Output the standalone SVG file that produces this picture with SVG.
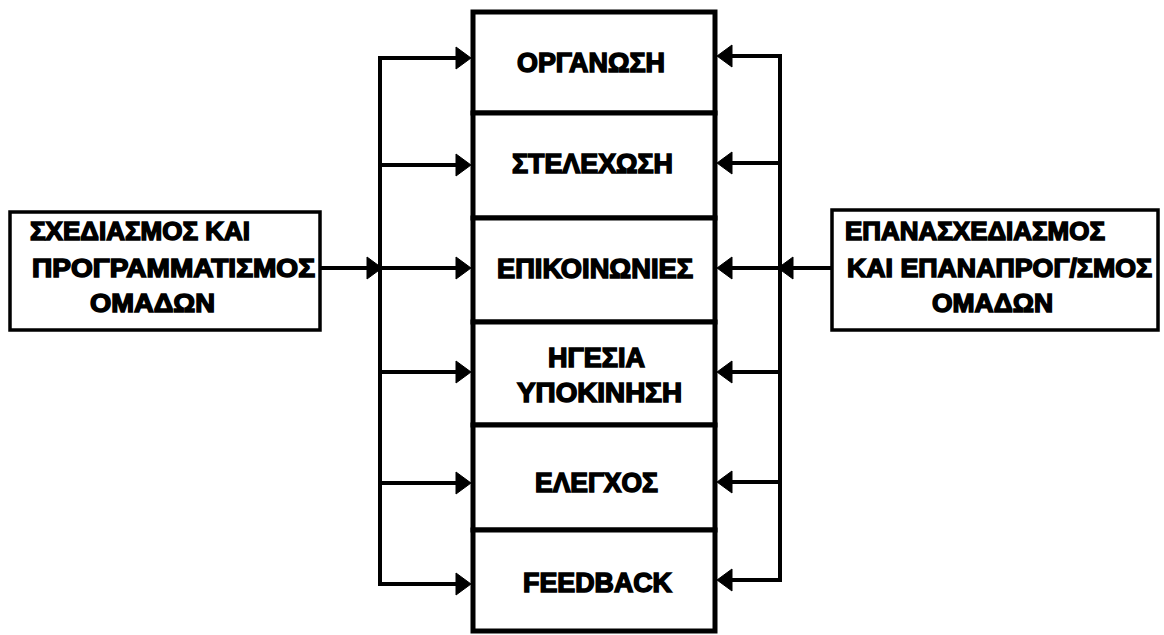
<svg xmlns="http://www.w3.org/2000/svg" xmlns:xlink="http://www.w3.org/1999/xlink" width="1164" height="635" viewBox="0 0 1164 635">
  <style>
    .box { fill: #fff; stroke: #000; stroke-width: 5; }
    .side { fill: #fff; stroke: #000; stroke-width: 3.5; }
    .t { font-family: "Liberation Sans", Arial, sans-serif; font-weight: bold; font-size: 27px; fill: #000; stroke: #000; stroke-width: 1.5; }
    .ts { font-family: "Liberation Sans", Arial, sans-serif; font-weight: bold; font-size: 26px; fill: #000; stroke: #000; stroke-width: 1.5; }
    .c { fill: none; stroke: #000; stroke-width: 4; stroke-linejoin: miter; }
  </style>
  <defs>
    <polygon id="ar" points="0,0 -15,-11 -15,11" fill="#000" stroke="#000" stroke-width="1" stroke-linejoin="round"/>
  </defs>

  <g id="connectors">
    <!-- left bus -->
    <path class="c" d="M466,58 H380 V584 H466"/>
    <path class="c" d="M380,165 H466"/>
    <path class="c" d="M380,268 H466"/>
    <path class="c" d="M380,372 H466"/>
    <path class="c" d="M380,483 H466"/>
    <path class="c" d="M320,268 H374"/>
    <!-- right bus -->
    <path class="c" d="M722,56 H780 V580 H722"/>
    <path class="c" d="M780,163 H722"/>
    <path class="c" d="M780,268 H722"/>
    <path class="c" d="M780,372 H722"/>
    <path class="c" d="M780,482 H722"/>
    <path class="c" d="M832,268 H786"/>
    <!-- arrowheads -->
    <use xlink:href="#ar" href="#ar" transform="translate(471,58)"/>
    <use xlink:href="#ar" href="#ar" transform="translate(471,165)"/>
    <use xlink:href="#ar" href="#ar" transform="translate(471,268)"/>
    <use xlink:href="#ar" href="#ar" transform="translate(471,372)"/>
    <use xlink:href="#ar" href="#ar" transform="translate(471,483)"/>
    <use xlink:href="#ar" href="#ar" transform="translate(471,584)"/>
    <use xlink:href="#ar" href="#ar" transform="translate(382,268)"/>
    <use xlink:href="#ar" href="#ar" transform="translate(717,56) scale(-1,1)"/>
    <use xlink:href="#ar" href="#ar" transform="translate(717,163) scale(-1,1)"/>
    <use xlink:href="#ar" href="#ar" transform="translate(717,268) scale(-1,1)"/>
    <use xlink:href="#ar" href="#ar" transform="translate(717,372) scale(-1,1)"/>
    <use xlink:href="#ar" href="#ar" transform="translate(717,482) scale(-1,1)"/>
    <use xlink:href="#ar" href="#ar" transform="translate(717,580) scale(-1,1)"/>
    <use xlink:href="#ar" href="#ar" transform="translate(778,268) scale(-1,1)"/>
  </g>

  <g id="planning">
    <rect class="side" x="10" y="212" width="310" height="118"/>
    <text class="ts" x="30" y="240" textLength="220" lengthAdjust="spacingAndGlyphs">ΣΧΕΔΙΑΣΜΟΣ ΚΑΙ</text>
    <text class="ts" x="32" y="277" textLength="283" lengthAdjust="spacingAndGlyphs">ΠΡΟΓΡΑΜΜΑΤΙΣΜΟΣ</text>
    <text class="ts" x="90" y="312" textLength="125" lengthAdjust="spacingAndGlyphs">ΟΜΑΔΩΝ</text>
  </g>

  <g id="replanning">
    <rect class="side" x="832" y="210" width="326" height="120"/>
    <text class="ts" x="845" y="240" textLength="260" lengthAdjust="spacingAndGlyphs">ΕΠΑΝΑΣΧΕΔΙΑΣΜΟΣ</text>
    <text class="ts" x="847" y="277" textLength="305" lengthAdjust="spacingAndGlyphs">ΚΑΙ ΕΠΑΝΑΠΡΟΓ/ΣΜΟΣ</text>
    <text class="ts" x="932" y="312" textLength="121" lengthAdjust="spacingAndGlyphs">ΟΜΑΔΩΝ</text>
  </g>

  <g id="organosi">
    <rect class="box" x="473" y="12" width="242" height="101"/>
    <text class="t" x="517" y="72" textLength="148" lengthAdjust="spacingAndGlyphs">ΟΡΓΑΝΩΣΗ</text>
  </g>
  <g id="stelexosi">
    <rect class="box" x="473" y="113" width="242" height="105"/>
    <text class="t" x="512" y="173" textLength="161" lengthAdjust="spacingAndGlyphs">ΣΤΕΛΕΧΩΣΗ</text>
  </g>
  <g id="epikoinonies">
    <rect class="box" x="473" y="218" width="242" height="104"/>
    <text class="t" x="497" y="278" textLength="196" lengthAdjust="spacingAndGlyphs">ΕΠΙΚΟΙΝΩΝΙΕΣ</text>
  </g>
  <g id="igesia">
    <rect class="box" x="473" y="322" width="242" height="103"/>
    <text class="t" x="548" y="367" textLength="97" lengthAdjust="spacingAndGlyphs">ΗΓΕΣΙΑ</text>
    <text class="t" x="517" y="402" textLength="165" lengthAdjust="spacingAndGlyphs">ΥΠΟΚΙΝΗΣΗ</text>
  </g>
  <g id="elegxos">
    <rect class="box" x="473" y="425" width="242" height="105"/>
    <text class="t" x="535" y="492" textLength="123" lengthAdjust="spacingAndGlyphs">ΕΛΕΓΧΟΣ</text>
  </g>
  <g id="feedback">
    <rect class="box" x="473" y="530" width="242" height="101"/>
    <text class="t" x="523" y="592" textLength="149" lengthAdjust="spacingAndGlyphs">FEEDBACK</text>
  </g>
</svg>
